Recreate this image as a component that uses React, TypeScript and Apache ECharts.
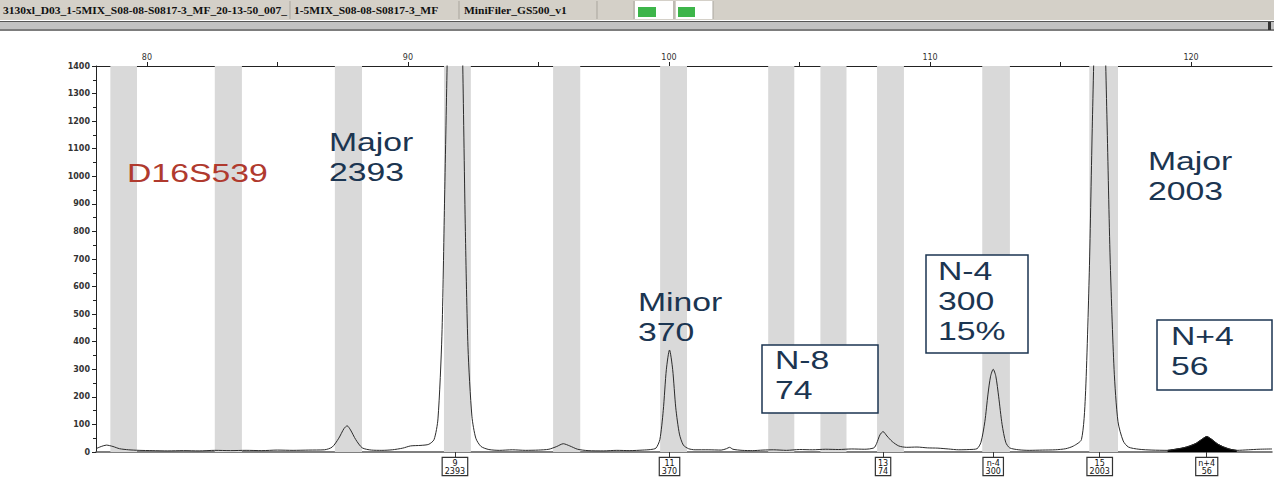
import React, { useEffect, useRef } from 'react';
import * as echarts from 'echarts';

// Size (bp) range shown on the electropherogram and the RFU scale
const sizeMin = 78.05;
const sizeMax = 123.1;
const rfuMin = 0;
const rfuMax = 1400;
const rfuStep = 100;

const sizeTicks = [80, 85, 90, 95, 100, 105, 110, 115, 120];
const sizeLabels = [80, 90, 100, 110, 120];

// Allele bins (bp windows) of the panel
const binRanges: [number, number][] = [
  [78.6, 79.62],
  [82.6, 83.64],
  [87.2, 88.24],
  [91.38, 92.41],
  [95.56, 96.6],
  [99.66, 100.69],
  [103.8, 104.8],
  [105.8, 106.8],
  [107.97, 109.0],
  [112.0, 113.06],
  [116.1, 117.2],
];

// Called peaks: allele name, size (bp) and height (RFU)
const alleleNames = ['9', '11', '13', 'n-4', '15', 'n+4'];
const alleleSizes = [91.8, 100.02, 108.2, 112.42, 116.5, 120.6];
const alleleHeights = [2393, 370, 74, 300, 2003, 56];

// Signal trace: [size bp, RFU]
const trace: [number, number][] = [
  [78.05, 12], [78.25, 20], [78.45, 25], [78.7, 20], [78.95, 12], [79.3, 8], [79.7, 6],
  [80.2, 5], [80.8, 4], [81.4, 5], [82.0, 4], [82.6, 6], [83.2, 5], [83.8, 6], [84.4, 5],
  [85.0, 7], [85.6, 6], [86.2, 7], [86.8, 8], [87.1, 18], [87.35, 50], [87.55, 85],
  [87.67, 95], [87.8, 80], [88.0, 45], [88.25, 15], [88.6, 7], [89.0, 6], [89.4, 8],
  [89.8, 14], [90.1, 22], [90.5, 24], [90.8, 28], [91.0, 45], [91.15, 120], [91.3, 420],
  [91.4, 900], [91.5, 1400], [91.6, 1900], [91.7, 2300], [91.8, 2393], [91.9, 2300],
  [92.0, 1900], [92.1, 1400], [92.2, 800], [92.3, 380], [92.45, 130], [92.6, 50],
  [92.8, 20], [93.1, 9], [93.5, 6], [94.0, 8], [94.5, 6], [95.0, 7], [95.4, 10],
  [95.7, 20], [95.95, 30], [96.2, 22], [96.5, 10], [96.9, 5], [97.5, 4], [98.0, 6],
  [98.5, 5], [99.0, 7], [99.3, 9], [99.5, 14], [99.65, 45], [99.78, 150], [99.9, 300],
  [100.02, 370], [100.14, 300], [100.26, 160], [100.4, 65], [100.55, 25], [100.75, 12],
  [101.0, 8], [101.5, 8], [102.0, 7], [102.2, 12], [102.32, 17], [102.45, 10], [102.8, 6],
  [103.2, 5], [103.6, 7], [104.0, 8], [104.5, 6], [105.0, 9], [105.5, 8], [106.0, 10],
  [106.5, 9], [107.0, 11], [107.5, 10], [107.85, 15], [107.95, 30], [108.08, 62],
  [108.2, 74], [108.35, 58], [108.55, 38], [108.8, 22], [109.1, 17], [109.5, 18],
  [109.9, 15], [110.3, 14], [110.7, 11], [111.1, 8], [111.5, 9], [111.8, 12],
  [111.95, 35], [112.1, 110], [112.22, 210], [112.32, 275], [112.42, 300], [112.52, 275],
  [112.63, 200], [112.76, 100], [112.9, 35], [113.05, 15], [113.4, 8], [113.8, 6],
  [114.3, 7], [114.8, 8], [115.2, 12], [115.5, 22], [115.8, 45], [115.95, 200],
  [116.1, 650], [116.22, 1200], [116.35, 1700], [116.5, 2003], [116.65, 1700],
  [116.78, 1200], [116.9, 700], [117.05, 300], [117.2, 110], [117.4, 40], [117.6, 18],
  [118.0, 10], [118.5, 7], [119.1, 6], [119.4, 10], [119.7, 15], [119.95, 22],
  [120.2, 32], [120.4, 45], [120.6, 56], [120.8, 45], [121.0, 30], [121.25, 18],
  [121.5, 10], [121.75, 6], [122.2, 8], [122.6, 10], [123.1, 11],
];

// Window of the trace shaded as the called n+4 stutter
const shadedRange: [number, number] = [119.1, 121.75];

const headerCells = [
  '3130xl_D03_1-5MIX_S08-08-S0817-3_MF_20-13-50_007_',
  '1-5MIX_S08-08-S0817-3_MF',
  'MiniFiler_GS500_v1',
];
const locusName = 'D16S539';

const ink = '#1b3551';
const bigFont = '"Liberation Sans", Arial, sans-serif';

function bigText(x: number, y: number, text: string, color: string = ink) {
  return {
    type: 'text',
    x,
    y,
    scaleX: 1.35,
    z: 20,
    style: {
      text,
      fill: color,
      fontSize: 25,
      fontFamily: bigFont,
      lineHeight: 30,
      align: 'left',
      verticalAlign: 'top',
    },
  };
}

function box(x: number, y: number, w: number, h: number) {
  return {
    type: 'rect',
    z: 19,
    shape: { x, y, width: w, height: h },
    style: { fill: '#ffffff', stroke: ink, lineWidth: 1.5 },
  };
}

function headerGraphics() {
  const font = '"Liberation Serif", "DejaVu Serif", serif';
  const sep = (x: number) => ({
    type: 'line',
    z: 30,
    shape: { x1: x, y1: 1, x2: x, y2: 19 },
    style: { stroke: '#a9a59d', lineWidth: 1 },
  });
  const cellText = (x: number, text: string) => ({
    type: 'text',
    x,
    y: 10,
    scaleX: 1.15,
    z: 31,
    style: {
      text,
      fill: '#111',
      fontSize: 10,
      fontWeight: 'bold',
      fontFamily: font,
      align: 'left',
      verticalAlign: 'middle',
    },
  });
  return [
    { type: 'rect', z: 29, shape: { x: 0, y: 0, width: 1274, height: 20 }, style: { fill: '#d4d0c8' } },
    { type: 'rect', z: 30, shape: { x: 635, y: 1, width: 38, height: 18 }, style: { fill: '#ffffff' } },
    { type: 'rect', z: 30, shape: { x: 676, y: 1, width: 37, height: 18 }, style: { fill: '#ffffff' } },
    { type: 'rect', z: 31, shape: { x: 638, y: 7, width: 18, height: 10 }, style: { fill: '#3db54a' } },
    { type: 'rect', z: 31, shape: { x: 678, y: 7, width: 17, height: 10 }, style: { fill: '#3db54a' } },
    sep(290),
    sep(459),
    sep(597),
    sep(634),
    sep(674),
    sep(713),
    cellText(3, headerCells[0]),
    cellText(294, headerCells[1]),
    cellText(464, headerCells[2]),
    { type: 'rect', z: 29, shape: { x: 0, y: 21, width: 1274, height: 9 }, style: { fill: '#c2c2c2' } },
    { type: 'line', z: 30, shape: { x1: 0, y1: 21.5, x2: 1274, y2: 21.5 }, style: { stroke: '#555', lineWidth: 1 } },
    { type: 'line', z: 30, shape: { x1: 0, y1: 30, x2: 1274, y2: 30 }, style: { stroke: '#7d7d7d', lineWidth: 2 } },
    { type: 'rect', z: 31, shape: { x: 1268, y: 22, width: 3, height: 8 }, style: { fill: '#333' } },
  ];
}

function alleleIndex(v: number) {
  let best = 0;
  for (let i = 1; i < alleleSizes.length; i++) {
    if (Math.abs(alleleSizes[i] - v) < Math.abs(alleleSizes[best] - v)) best = i;
  }
  return best;
}

export default function App() {
  const ref = useRef<HTMLDivElement>(null);

  useEffect(() => {
    if (!ref.current) return;
    const chart = echarts.init(ref.current, undefined, { renderer: 'svg' });

    const shaded = trace.filter(([s]) => s >= shadedRange[0] && s <= shadedRange[1]);
    const axisColor = '#222';
    const smallFont = '"DejaVu Sans", Arial, sans-serif';

    chart.setOption({
      animation: false,
      backgroundColor: '#ffffff',
      grid: { left: 96, right: 2, top: 66, bottom: 41, containLabel: false },
      xAxis: [
        {
          type: 'value',
          position: 'top',
          min: sizeMin,
          max: sizeMax,
          axisLine: { show: true, onZero: false, lineStyle: { color: axisColor, width: 1 } },
          axisTick: { show: true, customValues: sizeTicks, length: 4, lineStyle: { color: axisColor } },
          axisLabel: {
            customValues: sizeLabels,
            fontSize: 8,
            color: '#333',
            margin: 5,
            fontFamily: smallFont,
          },
          splitLine: { show: false },
        },
        {
          type: 'value',
          position: 'bottom',
          min: sizeMin,
          max: sizeMax,
          axisLine: { show: true, onZero: false, lineStyle: { color: '#555', width: 1.5 } },
          axisTick: { show: true, customValues: alleleSizes, length: 5, lineStyle: { color: '#333' } },
          axisLabel: {
            customValues: alleleSizes,
            margin: 6,
            fontSize: 8,
            lineHeight: 8,
            color: '#111',
            fontFamily: smallFont,
            align: 'center',
            backgroundColor: '#ffffff',
            borderColor: '#333',
            borderWidth: 1.2,
            padding: [1, 2, 0, 2],
            formatter: (v: number) => {
              const i = alleleIndex(v);
              return `${alleleNames[i]}\n${alleleHeights[i]}`;
            },
          },
          splitLine: { show: false },
        },
      ],
      yAxis: {
        type: 'value',
        min: rfuMin,
        max: rfuMax,
        interval: rfuStep,
        axisLine: { show: true, onZero: false, lineStyle: { color: axisColor, width: 1 } },
        axisTick: { show: true, length: 4, lineStyle: { color: axisColor } },
        minorTick: { show: true, splitNumber: 2, length: 3, lineStyle: { color: axisColor } },
        axisLabel: {
          fontSize: 8,
          fontWeight: 'bold',
          color: '#333',
          margin: 6,
          fontFamily: smallFont,
          formatter: (v: number) => String(v),
        },
        splitLine: { show: false },
      },
      series: [
        {
          type: 'line',
          xAxisIndex: 0,
          data: [[sizeMin, 0]],
          symbol: 'none',
          silent: true,
          lineStyle: { opacity: 0 },
          z: 1,
          markArea: {
            silent: true,
            itemStyle: { color: '#d9d9d9' },
            data: binRanges.map(([a, b]) => [{ xAxis: a }, { xAxis: b }]),
          },
        },
        {
          type: 'line',
          xAxisIndex: 0,
          data: shaded,
          symbol: 'none',
          smooth: 0.25,
          silent: true,
          lineStyle: { color: '#000', width: 1 },
          areaStyle: { color: '#000', opacity: 1 },
          z: 2,
        },
        {
          type: 'line',
          xAxisIndex: 0,
          data: trace,
          symbol: 'none',
          smooth: 0.25,
          clip: true,
          silent: true,
          lineStyle: { color: '#2b2b2b', width: 1 },
          z: 3,
        },
      ],
      graphic: [
        ...headerGraphics(),
        bigText(127, 158, locusName, '#b03a2e'),
        bigText(329, 127, `Major\n${alleleHeights[0]}`),
        bigText(638, 287, `Minor\n${alleleHeights[1]}`),
        bigText(1148, 146, `Major\n${alleleHeights[4]}`),
        box(762, 345, 116, 68),
        bigText(775, 345, `N-8\n${alleleHeights[2]}`),
        box(926, 255, 102, 98),
        bigText(938, 256, `N-4\n${alleleHeights[3]}\n15%`),
        box(1157, 320, 115, 70),
        bigText(1171, 321, `N+4\n${alleleHeights[5]}`),
      ],
    });

    return () => chart.dispose();
  }, []);

  return (
    <div
      ref={ref}
      style={{ position: 'fixed', left: 0, top: 0, width: 1274, height: 493, background: '#fff' }}
    />
  );
}
